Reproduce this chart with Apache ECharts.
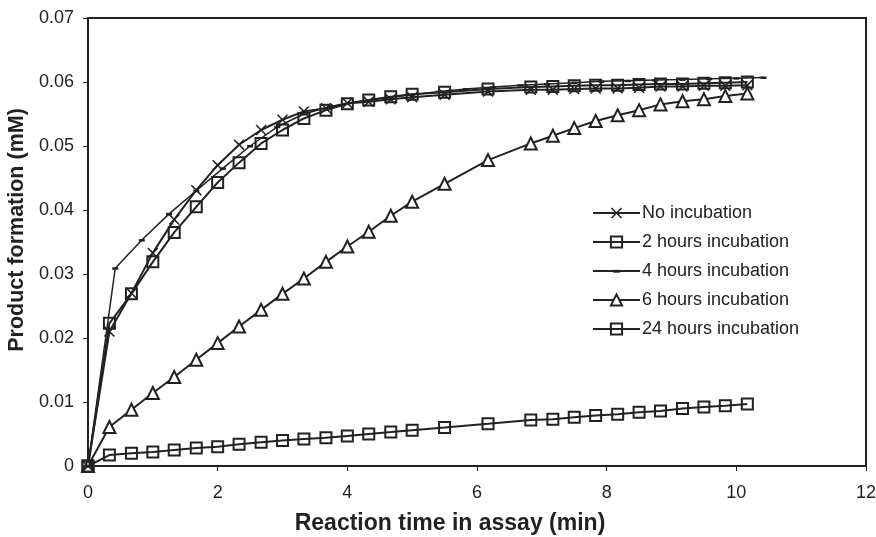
<!DOCTYPE html>
<html>
<head>
<meta charset="utf-8">
<script src="https://cdn.jsdelivr.net/npm/echarts@6/dist/echarts.min.js"></script>
<style>html,body{margin:0;padding:0;background:#fff}#c{width:876px;height:537px}</style>
</head>
<body>
<div id="c"></div>
<script>
// Time points (min)
var timesMain = [0, 0.33, 0.67, 1, 1.33, 1.67, 2, 2.33, 2.67, 3, 3.33, 3.67, 4, 4.33, 4.67, 5, 5.5, 6.17, 6.83, 7.17, 7.5, 7.83, 8.17, 8.5, 8.83, 9.17, 9.5, 9.83, 10.17];
var times4h = [0, 0.42, 0.83, 1.25, 1.67, 2.08, 2.5, 2.92, 3.33, 3.75, 4.17, 4.58, 5, 5.42, 5.83, 6.25, 6.67, 7.08, 7.5, 7.92, 8.33, 8.75, 9.17, 9.58, 10, 10.42];

// Product formation (mM)
var noIncubation = [0, 0.0210, 0.0270, 0.0333, 0.0385, 0.0431, 0.0470, 0.0502, 0.0525, 0.0541, 0.0554, 0.0559, 0.0567, 0.0569, 0.0573, 0.0576, 0.0580, 0.0585, 0.0588, 0.0588, 0.0589, 0.0590, 0.0590, 0.0591, 0.0593, 0.0593, 0.0594, 0.0594, 0.0595];
var hours2 = [0, 0.0223, 0.0269, 0.0319, 0.0365, 0.0405, 0.0443, 0.0474, 0.0504, 0.0525, 0.0543, 0.0556, 0.0566, 0.0572, 0.0577, 0.0581, 0.0584, 0.0589, 0.0592, 0.0593, 0.0594, 0.0595, 0.0595, 0.0596, 0.0597, 0.0597, 0.0598, 0.0599, 0.0600];
var hours4 = [0, 0.0309, 0.0353, 0.0394, 0.0430, 0.0465, 0.0500, 0.0530, 0.0550, 0.0562, 0.0569, 0.0575, 0.0580, 0.0585, 0.0589, 0.0592, 0.0595, 0.0597, 0.0599, 0.0601, 0.0602, 0.0603, 0.0604, 0.0605, 0.0606, 0.0607];
var hours6 = [0, 0.0061, 0.0088, 0.0114, 0.0139, 0.0166, 0.0192, 0.0218, 0.0244, 0.0269, 0.0293, 0.0319, 0.0343, 0.0366, 0.0391, 0.0413, 0.0441, 0.0478, 0.0504, 0.0516, 0.0528, 0.0539, 0.0548, 0.0556, 0.0565, 0.0570, 0.0573, 0.0578, 0.0582];
var hours24 = [0, 0.0017, 0.0020, 0.0022, 0.0025, 0.0028, 0.0030, 0.0034, 0.0037, 0.0040, 0.0042, 0.0044, 0.0047, 0.0050, 0.0053, 0.0056, 0.0060, 0.0066, 0.0072, 0.0073, 0.0076, 0.0079, 0.0081, 0.0084, 0.0086, 0.0090, 0.0092, 0.0094, 0.0097];

var seriesNames = ['No incubation', '2 hours incubation', '4 hours incubation', '6 hours incubation', '24 hours incubation'];
var xTicks = [0, 2, 4, 6, 8, 10, 12];
var yTicks = [0, 0.01, 0.02, 0.03, 0.04, 0.05, 0.06, 0.07];

function pairs(xs, ys) { return xs.map(function (x, i) { return [x, ys[i]]; }); }

var INK = '#222';
var FONT = 'Liberation Sans, Arial, sans-serif';
var crossPath = 'path://M0,1L1,0L5,4L9,0L10,1L6,5L10,9L9,10L5,6L1,10L0,9L4,5Z';
// small dash inside a 10x10 box (box corners only set the bounds)
var dashPath = 'path://M0,0M10,10M2,4L8,4L8,6.5L2,6.5Z';

function lineSeries(name, data, symbol, size, itemStyle, lw) {
  return {
    name: name, type: 'line', data: data,
    symbol: symbol, symbolSize: size, showAllSymbol: true,
    lineStyle: { color: INK, width: lw },
    itemStyle: itemStyle,
    emphasis: { disabled: true },
    animation: false
  };
}

var chart = echarts.init(document.getElementById('c'), null, { renderer: 'canvas' });
chart.setOption({
  backgroundColor: '#fff',
  animation: false,
  textStyle: { fontFamily: FONT, color: INK },
  grid: { left: 88, right: 10, top: 18, bottom: 71, outerBoundsMode: 'none', containLabel: false,
    show: true, borderColor: INK, borderWidth: 2, backgroundColor: 'transparent' },
  legend: {
    orient: 'vertical', left: 587, top: 199,
    itemWidth: 47, itemHeight: 14, itemGap: 11,
    textStyle: { fontFamily: FONT, fontSize: 18, color: INK, padding: [0, 0, 0, -3] },
    data: seriesNames
  },
  xAxis: {
    type: 'value', min: xTicks[0], max: xTicks[xTicks.length - 1], interval: 2,
    name: 'Reaction time in assay (min)', nameLocation: 'middle', nameGap: 46,
    nameTextStyle: { fontFamily: FONT, fontSize: 23, fontWeight: 'bold', color: INK, padding: [0, 54, 0, 0] },
    axisLine: { show: true, lineStyle: { color: INK, width: 2 } },
    axisTick: { show: true, inside: false, length: 5, lineStyle: { color: INK, width: 1 } },
    axisLabel: { fontFamily: FONT, fontSize: 18, color: INK, margin: 18 },
    splitLine: { show: false }
  },
  yAxis: {
    type: 'value', min: yTicks[0], max: yTicks[yTicks.length - 1], interval: 0.01,
    name: 'Product formation (mM)', nameLocation: 'middle', nameGap: 59,
    nameTextStyle: { fontFamily: FONT, fontSize: 21.5, fontWeight: 'bold', color: INK, padding: [0, 0, 0, 24] },
    axisLine: { show: true, lineStyle: { color: INK, width: 2 } },
    axisTick: { show: true, inside: false, length: 5, lineStyle: { color: INK, width: 1 } },
    axisLabel: { fontFamily: FONT, fontSize: 18, color: INK, margin: 14,
      formatter: function (v) { return v === 0 ? '0' : v.toFixed(2); } },
    splitLine: { show: false }
  },
  series: [
    lineSeries(seriesNames[4], pairs(timesMain, hours24), 'rect', 11,
      { color: 'rgba(255,255,255,0)', borderColor: INK, borderWidth: 2 }, 2),
    lineSeries(seriesNames[3], pairs(timesMain, hours6), 'triangle', 12,
      { color: '#fff', borderColor: INK, borderWidth: 2 }, 2),
    lineSeries(seriesNames[1], pairs(timesMain, hours2), 'rect', 11,
      { color: 'rgba(255,255,255,0)', borderColor: INK, borderWidth: 2 }, 2),
    lineSeries(seriesNames[0], pairs(timesMain, noIncubation), crossPath, 11,
      { color: INK, borderWidth: 0 }, 2),
    lineSeries(seriesNames[2], pairs(times4h, hours4), dashPath, 10,
      { color: INK, borderWidth: 0 }, 1.5)
  ]
});
</script>
</body>
</html>
